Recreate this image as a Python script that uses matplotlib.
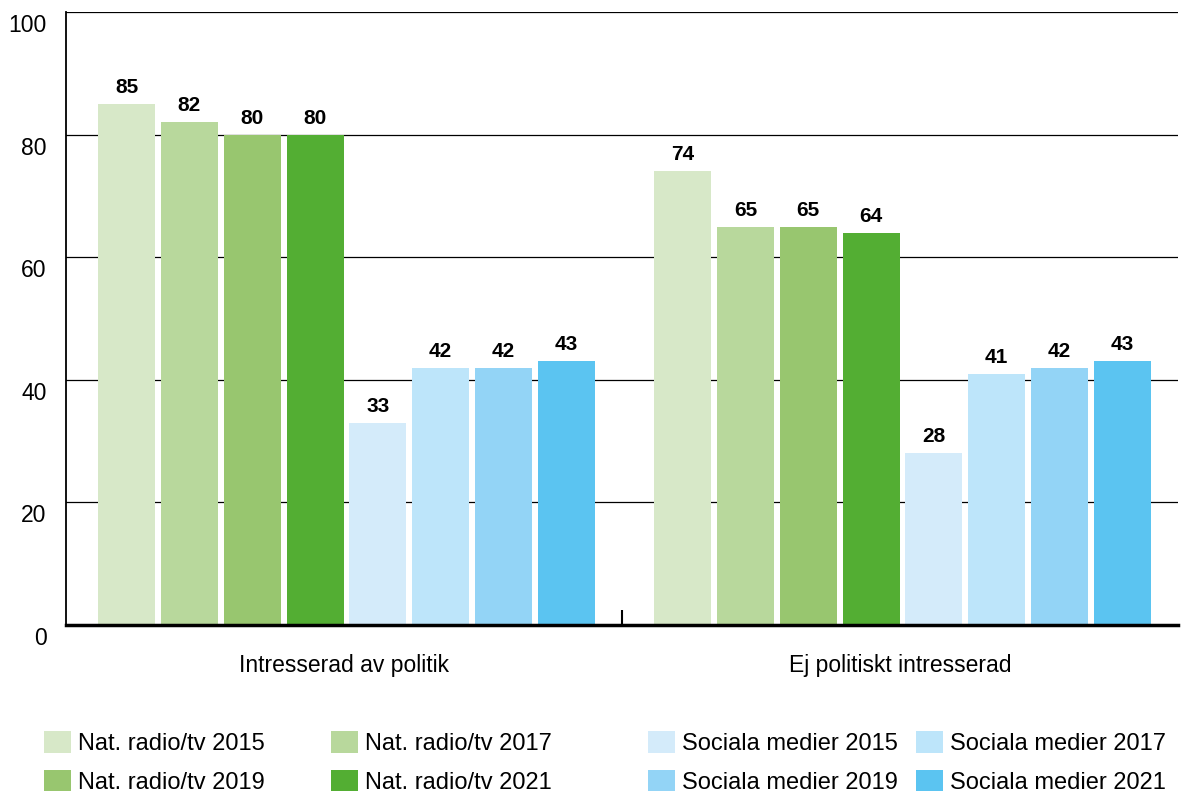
import matplotlib
matplotlib.use("Agg")
import matplotlib.pyplot as plt
import matplotlib.transforms as mtransforms
import numpy as np

categories = ["Intresserad av politik", "Ej politiskt intresserad"]
series_names = ["Nat. radio/tv 2015", "Nat. radio/tv 2017", "Nat. radio/tv 2019", "Nat. radio/tv 2021",
                "Sociala medier 2015", "Sociala medier 2017", "Sociala medier 2019", "Sociala medier 2021"]
nat_2015 = [85, 74]
nat_2017 = [82, 65]
nat_2019 = [80, 65]
nat_2021 = [80, 64]
soc_2015 = [33, 28]
soc_2017 = [42, 41]
soc_2019 = [42, 42]
soc_2021 = [43, 43]
series_values = [nat_2015, nat_2017, nat_2019, nat_2021, soc_2015, soc_2017, soc_2019, soc_2021]
colors = ["#d7e8c8", "#b8d89c", "#98c66f", "#53ae33", "#d4ebfa", "#bde5fa", "#93d4f6", "#5bc4f1"]
yticks = [0, 20, 40, 60, 80, 100]

plt.rcParams['font.family'] = ['Liberation Sans', 'DejaVu Sans']

fig = plt.figure(figsize=(11.81, 7.95), dpi=100)
ax = fig.add_axes([66/1181, 1-625/795, 1112/1181, 613/795])

x = np.arange(len(categories))
slot = 0.113
width = 0.1025
shift = 0.0045
handles = []
for i, (vals, col) in enumerate(zip(series_values, colors)):
    bars = ax.bar(x + shift + (i - 3.5) * slot, vals, width, color=col, zorder=3, label=series_names[i])
    handles.append(bars)
    for rect, v in zip(bars, vals):
        ax.annotate(f"{v}", (rect.get_x() + rect.get_width()/2, v), xytext=(0, 5),
                    textcoords="offset points", ha="center", va="bottom",
                    fontsize=15, fontweight="bold", zorder=4)

ax.set_xlim(-0.5, 1.5)
ax.set_ylim(0, 100)
ax.set_yticks(yticks)
ax.set_yticklabels([str(t) for t in yticks], fontsize=16.5)
ax.tick_params(axis='y', length=0, pad=14)
offset = mtransforms.ScaledTranslation(0, -11/100, fig.dpi_scale_trans)
for lab in ax.get_yticklabels():
    lab.set_transform(lab.get_transform() + offset)
ax.set_xticks(x)
ax.set_xticklabels(categories, fontsize=16.5)
ax.tick_params(axis='x', which='major', length=0, pad=21)
ax.set_xticks([0.5], minor=True)
ax.tick_params(axis='x', which='minor', direction='in', length=11, width=1.5, color='black')

ax.yaxis.grid(True, color='black', linewidth=0.9, zorder=0)
for s in ['top', 'right']:
    ax.spines[s].set_visible(False)
ax.spines['left'].set_linewidth(1.3)
ax.spines['bottom'].set_linewidth(2.5)
ax.spines['bottom'].set_zorder(5)

# legends: four columns of two entries each
col_x = [44, 331, 648, 916]
col_items = [(0, 2), (1, 3), (4, 6), (5, 7)]
for cx, (a, b) in zip(col_x, col_items):
    fig.legend([handles[a], handles[b]], [series_names[a], series_names[b]],
               loc='upper left', bbox_to_anchor=((cx - 9.5)/1181, 1 - 722/795),
               frameon=False, fontsize=17, handlelength=1.14, handleheight=1.02,
               handletextpad=0.3, labelspacing=0.62, borderaxespad=0)

fig.savefig("out.png", dpi=100)
